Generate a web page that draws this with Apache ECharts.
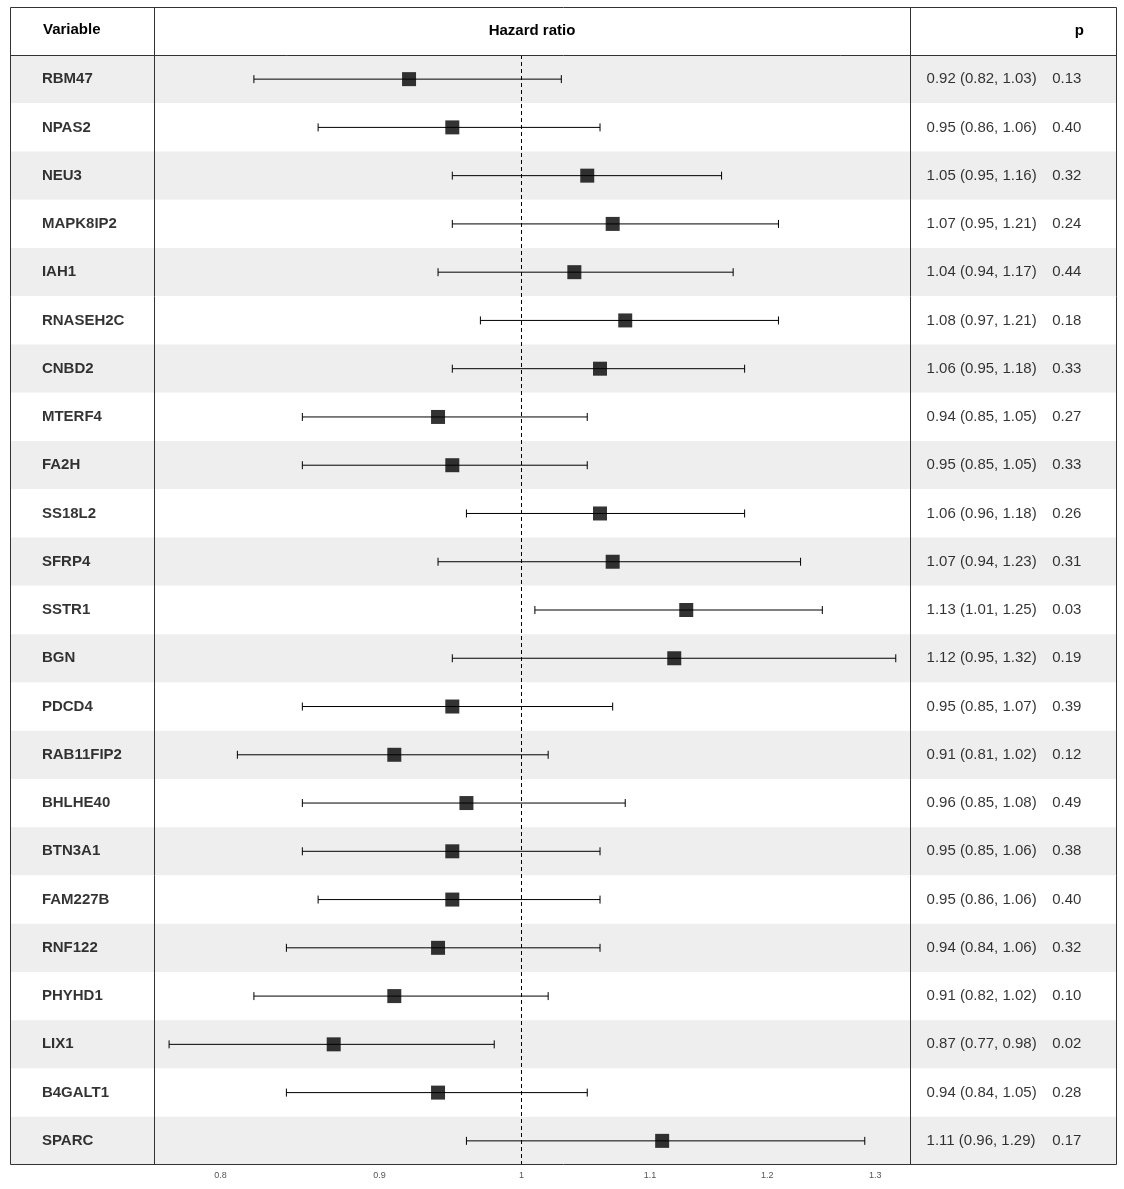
<!DOCTYPE html>
<html>
<head>
<meta charset="utf-8">
<script src="https://cdn.jsdelivr.net/npm/echarts@6/dist/echarts.min.js"></script>
<style>html,body{margin:0;padding:0;background:#fff}#chart{width:1124px;height:1189px}</style>
</head>
<body>
<div id="chart"></div>
<script>
var variables = ["RBM47","NPAS2","NEU3","MAPK8IP2","IAH1","RNASEH2C","CNBD2","MTERF4","FA2H","SS18L2","SFRP4","SSTR1","BGN","PDCD4","RAB11FIP2","BHLHE40","BTN3A1","FAM227B","RNF122","PHYHD1","LIX1","B4GALT1","SPARC"];
var hr    = [0.92,0.95,1.05,1.07,1.04,1.08,1.06,0.94,0.95,1.06,1.07,1.13,1.12,0.95,0.91,0.96,0.95,0.95,0.94,0.91,0.87,0.94,1.11];
var lower = [0.82,0.86,0.95,0.95,0.94,0.97,0.95,0.85,0.85,0.96,0.94,1.01,0.95,0.85,0.81,0.85,0.85,0.86,0.84,0.82,0.77,0.84,0.96];
var upper = [1.03,1.06,1.16,1.21,1.17,1.21,1.18,1.05,1.05,1.18,1.23,1.25,1.32,1.07,1.02,1.08,1.06,1.06,1.06,1.02,0.98,1.05,1.29];
var pvals = ["0.13","0.40","0.32","0.24","0.44","0.18","0.33","0.27","0.33","0.26","0.31","0.03","0.19","0.39","0.12","0.49","0.38","0.40","0.32","0.10","0.02","0.28","0.17"];
var xTicks = [0.8, 0.9, 1, 1.1, 1.2, 1.3];

var chart = echarts.init(document.getElementById("chart"));
var font = "Liberation Sans, Arial, sans-serif";
var gridTop = 55, gridBottom = 24;

function yAx(idx) {
  return {
    type: "category", data: variables, inverse: true, gridIndex: idx,
    axisLine: {show: false}, axisTick: {show: false}, axisLabel: {show: false},
    splitArea: {show: true, areaStyle: {color: ["#eeeeee", "#ffffff"]}}
  };
}
function plainX(idx) {
  return {type: "value", min: 0, max: 1, gridIndex: idx, show: false};
}

var ciText = hr.map(function (h, i) {
  return h.toFixed(2) + " (" + lower[i].toFixed(2) + ", " + upper[i].toFixed(2) + ")";
});

var option = {
  animation: false,
  grid: [
    {left: 10, width: 145, top: gridTop, bottom: gridBottom},
    {left: 155, right: 214, top: gridTop, bottom: gridBottom},
    {left: 910, right: 7, top: gridTop, bottom: gridBottom}
  ],
  xAxis: [
    plainX(0),
    {
      type: "value", gridIndex: 1,
      min: Math.log(0.762), max: Math.log(1.334),
      splitLine: {show: false}, axisLine: {show: false},
      axisTick: {show: false},
      axisLabel: {
        customValues: xTicks.map(Math.log), fontSize: 9, color: "#555", fontFamily: font, margin: 6,
        formatter: function (v) { return String(Math.round(Math.exp(v) * 10) / 10); }
      }
    },
    plainX(2)
  ],
  yAxis: [yAx(0), yAx(1), yAx(2)],
  series: [
    {
      type: "scatter", xAxisIndex: 0, yAxisIndex: 0, symbolSize: 0,
      data: variables.map(function (v) { return [0.22, v]; }),
      label: {show: true, position: "right", distance: 0, fontFamily: font, fontSize: 15, fontWeight: "bold", color: "#000",
        formatter: function (p) { return variables[p.dataIndex]; }}
    },
    {
      type: "custom", xAxisIndex: 1, yAxisIndex: 1,
      data: variables.map(function (v, i) { return [Math.log(lower[i]), Math.log(upper[i]), i]; }),
      renderItem: function (params, api) {
        var a = api.coord([api.value(0), api.value(2)]);
        var b = api.coord([api.value(1), api.value(2)]);
        var s = {stroke: "#000", lineWidth: 1};
        return {type: "group", children: [
          {type: "line", shape: {x1: a[0], y1: a[1], x2: b[0], y2: b[1]}, style: s},
          {type: "line", shape: {x1: a[0], y1: a[1] - 4, x2: a[0], y2: a[1] + 4}, style: s},
          {type: "line", shape: {x1: b[0], y1: b[1] - 4, x2: b[0], y2: b[1] + 4}, style: s}
        ]};
      },
      markLine: {
        silent: true, symbol: "none", label: {show: false},
        lineStyle: {color: "#000", type: [4, 3], width: 1},
        data: [{xAxis: 0}]
      },
      z: 2
    },
    {
      type: "scatter", xAxisIndex: 1, yAxisIndex: 1, symbol: "rect", symbolSize: 14,
      itemStyle: {color: "#000"},
      data: variables.map(function (v, i) { return [Math.log(hr[i]), v]; }),
      z: 3
    },
    {
      type: "scatter", xAxisIndex: 2, yAxisIndex: 2, symbolSize: 0,
      data: variables.map(function (v) { return [0.08, v]; }),
      label: {show: true, position: "right", distance: 0, fontFamily: font, fontSize: 15, color: "#000",
        formatter: function (p) { return ciText[p.dataIndex]; }}
    },
    {
      type: "scatter", xAxisIndex: 2, yAxisIndex: 2, symbolSize: 0,
      data: variables.map(function (v) { return [0.687, v]; }),
      label: {show: true, position: "right", distance: 0, fontFamily: font, fontSize: 15, color: "#000",
        formatter: function (p) { return pvals[p.dataIndex]; }}
    }
  ],
  graphic: [
    {type: "rect", shape: {x: 10.5, y: 7.5, width: 1106, height: 1157}, style: {fill: "none", stroke: "#333", lineWidth: 1}, z: 100},
    {type: "line", shape: {x1: 10, y1: 55.5, x2: 1117, y2: 55.5}, style: {stroke: "#333", lineWidth: 1}, z: 100},
    {type: "line", shape: {x1: 154.5, y1: 7, x2: 154.5, y2: 1165}, style: {stroke: "#333", lineWidth: 1}, z: 100},
    {type: "line", shape: {x1: 910.5, y1: 7, x2: 910.5, y2: 1165}, style: {stroke: "#333", lineWidth: 1}, z: 100},
    {type: "text", left: 43, top: 22, style: {text: "Variable", font: "bold 15px " + font, fill: "#000"}},
    {type: "text", x: 532, y: 31, style: {text: "Hazard ratio", font: "bold 15px " + font, fill: "#000", align: "center", verticalAlign: "middle"}},
    {type: "text", x: 1084, y: 31, style: {text: "p", font: "bold 15px " + font, fill: "#000", align: "right", verticalAlign: "middle"}}
  ]
};
chart.setOption(option);
</script>
</body>
</html>
